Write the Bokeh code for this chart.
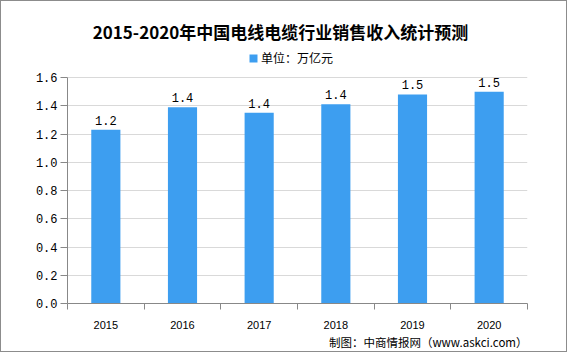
from bokeh.plotting import figure
from bokeh.models import (ColumnDataSource, FixedTicker, Label, LabelSet, Legend,
                          LegendItem, NumeralTickFormatter, Range1d, Title)
from bokeh.core.properties import value
from bokeh.embed import file_html
from bokeh.resources import INLINE

# ---- data ----
years = ["2015", "2016", "2017", "2018", "2019", "2020"]
revenue = [1.23, 1.39, 1.35, 1.41, 1.48, 1.50]
value_labels = ["1.2", "1.4", "1.4", "1.4", "1.5", "1.5"]
y_ticks = [0.0, 0.2, 0.4, 0.6, 0.8, 1.0, 1.2, 1.4, 1.6]
title_text = "2015-2020年中国电线电缆行业销售收入统计预测"
legend_text = "单位：万亿元"
source_text = "制图：中商情报网（www.askci.com）"

BAR = "#3d9ef0"
AXIS = "#888888"
W, H = 567, 352
BORDER_B = 50          # space under the frame
AXIS_PX = 226          # pixel height of the 0..1.6 axis
FRAME_H = H - BORDER_B
y_max = y_ticks[-1]
y_end = y_max * FRAME_H / AXIS_PX

xpos = [i + 0.5 for i in range(len(years))]
bounds = list(range(len(years) + 1))
src = ColumnDataSource(dict(x=xpos, top=revenue, label=value_labels))

p = figure(width=W, height=H, output_backend="svg", toolbar_location=None,
           x_range=Range1d(0, len(years)), y_range=Range1d(0, y_end),
           min_border_left=66, min_border_right=41, min_border_top=0,
           min_border_bottom=BORDER_B)
p.styles = {"border": "1px solid #8c8c8c"}
p.outline_line_color = None
p.background_fill_color = "white"
p.border_fill_color = "white"

bars = p.vbar(x="x", top="top", bottom=0, width=0.38, source=src,
              fill_color=BAR, line_color=None)

p.add_layout(LabelSet(x="x", y="top", text="label", source=src, y_offset=5,
                      text_align="center", text_baseline="bottom",
                      text_font=value("Liberation Mono"), text_font_size="12px",
                      text_color="#000000"))

# y axis
p.yaxis.ticker = FixedTicker(ticks=y_ticks, minor_ticks=[])
p.yaxis.bounds = (0, y_max)
p.yaxis.formatter = NumeralTickFormatter(format="0.0")
p.yaxis.axis_line_color = AXIS
p.yaxis.major_tick_line_color = AXIS
p.yaxis.major_tick_out = 7
p.yaxis.major_tick_in = 0
p.yaxis.minor_tick_line_color = None
p.yaxis.major_label_standoff = 3
p.yaxis.major_label_text_font = "Liberation Mono"
p.yaxis.major_label_text_font_size = "12px"
p.yaxis.major_label_text_color = "#000000"

# x axis
p.xaxis.ticker = FixedTicker(ticks=xpos, minor_ticks=bounds)
p.xaxis.major_label_overrides = {x: y for x, y in zip(xpos, years)}
p.xaxis.axis_line_color = AXIS
p.xaxis.major_tick_line_color = None
p.xaxis.major_tick_out = 0
p.xaxis.major_tick_in = 0
p.xaxis.minor_tick_line_color = AXIS
p.xaxis.minor_tick_out = 6
p.xaxis.minor_tick_in = 0
p.xaxis.major_label_standoff = 11
p.xaxis.major_label_text_font = "Liberation Sans"
p.xaxis.major_label_text_font_size = "11px"
p.xaxis.major_label_text_color = "#000000"

p.xgrid.grid_line_color = None
p.ygrid.ticker = FixedTicker(ticks=y_ticks)
p.ygrid.grid_line_color = "#d9d9d9"

# title (screen units: x from frame left, y up from frame bottom)
p.add_layout(Label(x=213, y=FRAME_H - 30, x_units="screen", y_units="screen",
                   text=title_text, text_align="center", text_baseline="middle",
                   text_font="Noto Sans CJK SC", text_font_style="bold",
                   text_font_size="17px", text_color="#000000"))

# legend
legend = Legend(items=[LegendItem(label=legend_text, renderers=[bars])],
                location=(181, FRAME_H - 65), orientation="horizontal",
                border_line_color=None, background_fill_alpha=0,
                padding=0, margin=0, spacing=0, label_standoff=3,
                glyph_width=10, glyph_height=10, label_height=14,
                label_text_font="Noto Sans CJK SC", label_text_font_size="12px",
                label_text_color="#000000")
p.add_layout(legend)

# source note below the x axis
p.add_layout(Title(text=source_text, align="right", offset=0, standoff=4,
                   vertical_align="top",
                   text_font="Noto Sans CJK SC", text_font_style="normal",
                   text_font_size="11.5px", text_color="#000000"), "below")

open("out.html", "w").write(file_html(p, INLINE))
